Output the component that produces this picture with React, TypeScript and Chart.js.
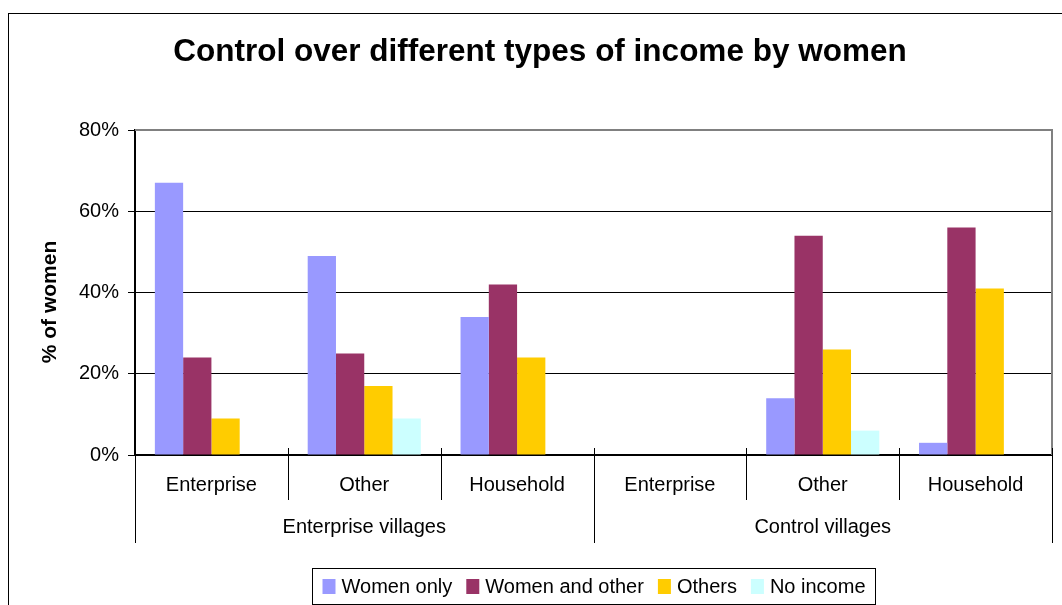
import React, { useEffect, useRef } from "react";
import { Chart, registerables } from "chart.js";
Chart.register(...registerables);

const categories = ["Enterprise", "Other", "Household", "Enterprise", "Other", "Household"];
const groups = ["Enterprise villages", "Control villages"];
const groupSizes = [3, 3];
const womenOnly = [67, 49, 34, 0, 14, 3];
const womenAndOther = [24, 25, 42, 0, 54, 56];
const others = [9, 17, 24, 0, 26, 41];
const noIncome = [0, 9, 0, 0, 6, 0];
const yMax = 80;
const yStep = 20;
const seriesLabels = ["Women only", "Women and other", "Others", "No income"];
const seriesColors = ["#9999FF", "#993366", "#FFCC00", "#CCFFFF"];
const chartTitle = "Control over different types of income by women";
const yTitle = "% of women";

const FONT = "'Liberation Sans', Arial, sans-serif";

const overlay = {
  id: "overlay",
  afterDraw(chart: any) {
    const ctx = chart.ctx;
    const area = chart.chartArea;
    const x = chart.scales.x;
    ctx.save();
    // plot border (top/right gray)
    ctx.strokeStyle = "#808080";
    ctx.lineWidth = 2;
    ctx.beginPath();
    ctx.moveTo(area.left, area.top);
    ctx.lineTo(area.right, area.top);
    ctx.lineTo(area.right, area.bottom);
    ctx.stroke();

    // category separators
    const n = categories.length;
    const half = (x.getPixelForValue(1) - x.getPixelForValue(0)) / 2;
    const groupEdges = new Set<number>();
    let acc = 0;
    groupEdges.add(0);
    groupSizes.forEach((g) => { acc += g; groupEdges.add(acc); });
    ctx.strokeStyle = "#000";
    ctx.lineWidth = 1;
    for (let i = 0; i <= n; i++) {
      const px = Math.round(i < n ? x.getPixelForValue(i) - half : x.getPixelForValue(n - 1) + half) + 0.5;
      ctx.beginPath();
      ctx.moveTo(px, area.bottom - 7);
      ctx.lineTo(px, groupEdges.has(i) ? area.bottom + 88 : area.bottom + 45);
      ctx.stroke();
    }

    // category labels
    ctx.fillStyle = "#000";
    ctx.font = `20px ${FONT}`;
    ctx.textAlign = "center";
    ctx.textBaseline = "middle";
    categories.forEach((c, i) => {
      ctx.fillText(c, x.getPixelForValue(i), area.bottom + 30);
    });
    // group labels
    let start = 0;
    groups.forEach((g, gi) => {
      const a = x.getPixelForValue(start) - half;
      const b = x.getPixelForValue(start + groupSizes[gi] - 1) + half;
      ctx.fillText(g, (a + b) / 2, area.bottom + 72);
      start += groupSizes[gi];
    });

    // title
    ctx.font = `bold 31.5px ${FONT}`;
    ctx.fillText(chartTitle, 540, 52);

    // y title
    ctx.save();
    ctx.translate(50, 302);
    ctx.rotate(-Math.PI / 2);
    ctx.font = `bold 21px ${FONT}`;
    ctx.fillText(yTitle, 0, 0);
    ctx.restore();

    // legend
    ctx.font = `20px ${FONT}`;
    ctx.textAlign = "left";
    const sw = 13, gapT = 6, gapI = 14, padX = 10;
    const widths = seriesLabels.map((l) => ctx.measureText(l).width);
    const total = widths.reduce((s, w) => s + w + sw + gapT, 0) + gapI * (seriesLabels.length - 1);
    const boxW = total + padX * 2;
    const cx = 594;
    const boxL = Math.round(cx - boxW / 2) + 0.5;
    const boxT = 568.5;
    const boxH = 36;
    ctx.strokeStyle = "#000";
    ctx.lineWidth = 1;
    ctx.strokeRect(boxL, boxT, Math.round(boxW), boxH);
    let lx = boxL + padX;
    const ly = 586;
    seriesLabels.forEach((l, i) => {
      ctx.fillStyle = seriesColors[i];
      ctx.fillRect(lx, ly - 7, sw, 15);
      ctx.fillStyle = "#000";
      ctx.fillText(l, lx + sw + gapT, ly + 1);
      lx += sw + gapT + widths[i] + gapI;
    });
    ctx.restore();
  },
};

export default function App() {
  const ref = useRef<HTMLCanvasElement>(null);
  useEffect(() => {
    if (!ref.current) return;
    const data = [womenOnly, womenAndOther, others, noIncome];
    const chart = new Chart(ref.current, {
      type: "bar",
      data: {
        labels: categories,
        datasets: seriesLabels.map((l, i) => ({
          label: l,
          data: data[i],
          backgroundColor: seriesColors[i],
          borderWidth: 0,
          categoryPercentage: 0.74,
          barPercentage: 1.0,
        })),
      },
      options: {
        responsive: false,
        animation: false,
        devicePixelRatio: 1,
        layout: { padding: { left: 0, top: 130, right: 10, bottom: 0 } },
        plugins: {
          legend: { display: false },
          title: { display: false },
          tooltip: { enabled: false },
        },
        scales: {
          x: {
            ticks: { display: false },
            grid: { display: false },
            border: { display: true, color: "#000", width: 2 },
            afterFit: (s: any) => { s.height = 150; },
          },
          y: {
            min: 0,
            max: yMax,
            ticks: {
              stepSize: yStep,
              color: "#000",
              font: { family: FONT, size: 20 },
              padding: 9,
              callback: (v: any) => v + "%",
            },
            grid: { color: "#000", lineWidth: 1, drawTicks: true, tickLength: 7, tickColor: "#000" },
            border: { display: true, color: "#000", width: 2 },
            afterFit: (s: any) => { s.width = 135; },
          },
        },
      },
      plugins: [overlay],
    });
    return () => chart.destroy();
  }, []);
  return (
    <div style={{ position: "fixed", left: 0, top: 0, width: 1062, height: 605, overflow: "hidden", background: "#fff" }}>
      <div style={{ position: "absolute", left: 8, top: 13, width: 1100, height: 700, border: "1px solid #000", boxSizing: "border-box" }} />
      <canvas ref={ref} width={1062} height={605} style={{ position: "absolute", left: 0, top: 0 }} />
    </div>
  );
}
